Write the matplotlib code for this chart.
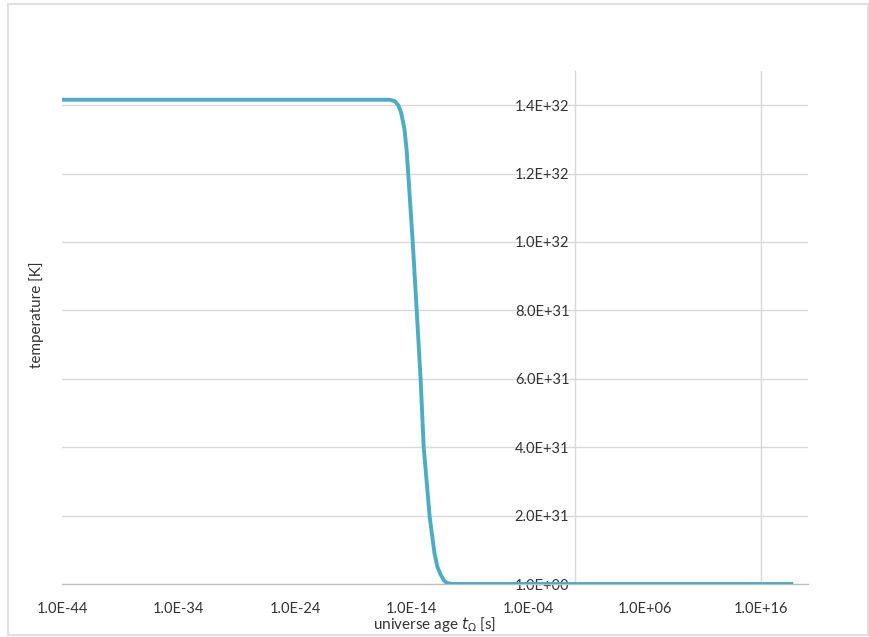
import matplotlib
matplotlib.use("Agg")
import matplotlib.pyplot as plt
from matplotlib.ticker import FixedLocator, FuncFormatter, NullLocator
from matplotlib.patches import Rectangle

# universe age [s] and temperature [K]
age = [1e-44, 1e-30, 1e-20, 1.3e-16, 3.5e-16, 7e-16, 1.2e-15, 1.7e-15, 2.4e-15, 3.7e-15, 5.5e-15,
       1.2e-14, 2.7e-14, 5.9e-14, 1.07e-13, 3.5e-13, 9e-13, 1.6e-12, 3.0e-12, 5.5e-12,
       1.0e-11, 3.2e-11, 1e-5, 1e5, 3.7e18]
temp = [1.416e32, 1.416e32, 1.416e32, 1.416e32, 1.412e32, 1.40e32, 1.38e32, 1.356e32, 1.33e32, 1.268e32, 1.18e32,
        1.005e32, 8.0e31, 5.96e31, 4.0e31, 1.96e31, 9.0e30, 5.0e30, 2.8e30, 1.2e30,
        3.0e29, 1.0, 1.0, 1.0, 1.0]

x_ticks = [1e-44, 1e-34, 1e-24, 1e-14, 1e-4, 1e6, 1e16]
y_ticks = [1.0, 2e31, 4e31, 6e31, 8e31, 1e32, 1.2e32, 1.4e32]

plt.rcParams['font.family'] = ['Lato', 'DejaVu Sans']
plt.rcParams['font.size'] = 10.5

fig = plt.figure(figsize=(8.7, 6.37), dpi=100)
ax = fig.add_axes([62/870, 1-584/637, 746/870, 513/637])

grid_c = '#d9d9d9'
text_c = '#333333'

for yv in y_ticks[1:]:
    ax.axhline(yv, color=grid_c, lw=1.0, zorder=1)
ax.axvline(1e16, color=grid_c, lw=1.0, zorder=1)

ax.plot(age, temp, color='#4bacc6', lw=2.8, solid_joinstyle='round', zorder=3)

ax.set_xscale('log')
ax.set_xlim(1e-44, 1e20)
ax.set_ylim(1.0, 1.5e32)

ax.xaxis.set_major_locator(FixedLocator(x_ticks))
ax.xaxis.set_minor_locator(NullLocator())
ax.xaxis.set_major_formatter(FuncFormatter(lambda v, p: f"{v:.1E}"))
ax.yaxis.set_major_locator(FixedLocator(y_ticks))
ax.yaxis.set_major_formatter(FuncFormatter(lambda v, p: f"{v:.1E}"))

for s in ['top', 'right']:
    ax.spines[s].set_visible(False)
ax.spines['left'].set_position(('data', 1.0))
ax.spines['left'].set_color(grid_c)
ax.spines['left'].set_linewidth(1.0)
ax.spines['bottom'].set_color('#bfbfbf')
ax.spines['bottom'].set_linewidth(1.0)
ax.spines['left'].set_zorder(1)

ax.tick_params(axis='x', length=0, pad=13, colors=text_c, labelsize=10.5)
ax.tick_params(axis='y', length=0, pad=4, colors=text_c, labelsize=10.5)

fig.text(435/870, 1-624/637, r'universe age $t_\Omega$ [s]', ha='center', va='center',
         fontsize=11, color=text_c)
fig.text(37/870, 1-315/637, 'temperature [K]', ha='center', va='center',
         rotation=90, fontsize=11, color=text_c)

fig.patches.append(Rectangle((8/870, 2/637), 860/870, 631/637, transform=fig.transFigure,
                             fill=False, edgecolor='#d9d9d9', lw=1.2))

fig.savefig('out.png', dpi=100)
